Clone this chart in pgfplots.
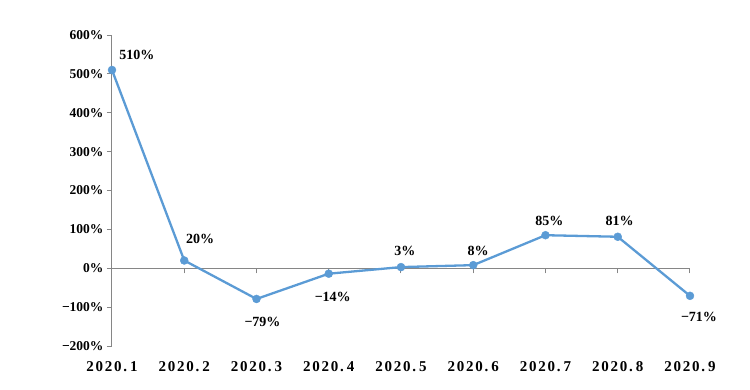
\documentclass[border=0pt]{standalone}
\usepackage{fontspec}
\setmainfont{Liberation Serif}
\newfontfamily\xfont[LetterSpace=12]{Liberation Serif}
\usepackage{pgfplots}
\usepackage{pgfplotstable}
\pgfplotsset{compat=1.18}
\definecolor{lineblue}{HTML}{5B9BD5}
\definecolor{axgray}{HTML}{868686}
\pgfplotstableread{
x y lab dx dy
0 510 510 25 15
1 20 20 16 22
2 -79 −79 6 -23
3 -14 −14 4 -23
4 3 3 4 16
5 8 8 5 14
6 85 85 4 14
7 81 81 2 16
8 -71 −71 9 -21
}\datatable
\begin{document}
\begin{tikzpicture}
\begin{axis}[name=ax, scale only axis, width=578pt, height=311pt,
  xmin=0, xmax=8, ymin=-200, ymax=600,
  axis x line*=middle, axis y line*=left,
  hide obscured x ticks=false,
  xtick={0,...,8},
  xticklabels={2020.\hspace{3pt}1,2020.\hspace{3pt}2,2020.\hspace{3pt}3,2020.\hspace{3pt}4,2020.\hspace{3pt}5,2020.\hspace{3pt}6,2020.\hspace{3pt}7,2020.\hspace{3pt}8,2020.\hspace{3pt}9},
  ytick={-200,-100,...,600},
  yticklabels={−200\%,−100\%,0\%,100\%,200\%,300\%,400\%,500\%,600\%},
  tick label style={font=\bfseries\fontsize{13.5}{14}\selectfont},
  xticklabel style={font=\xfont\bfseries\fontsize{15}{15}\selectfont, anchor=north, yshift=-85pt},
  axis line style={axgray, line width=1pt},
  tick style={axgray, line width=1pt},
  major tick length=5pt,
  tick align=outside,
  clip=false,
]
\addplot[lineblue, line width=2.3pt, mark=*, mark size=4pt,
  mark options={solid, fill=lineblue, draw=lineblue, line width=0.4pt},
  point meta=explicit symbolic,
  visualization depends on={\thisrow{dx}\as\dx},
  visualization depends on={\thisrow{dy}\as\dy},
  nodes near coords={\pgfplotspointmeta\%},
  every node near coord/.append style={anchor=center, black, font=\bfseries\fontsize{14}{14}\selectfont, xshift=\dx, yshift=\dy},
] table[x=x, y=y, meta=lab] {\datatable};
\end{axis}
\pgfresetboundingbox
\path (ax.south west) ++(-112pt,-43pt) rectangle ++(750pt,389pt);
\end{tikzpicture}
\end{document}
